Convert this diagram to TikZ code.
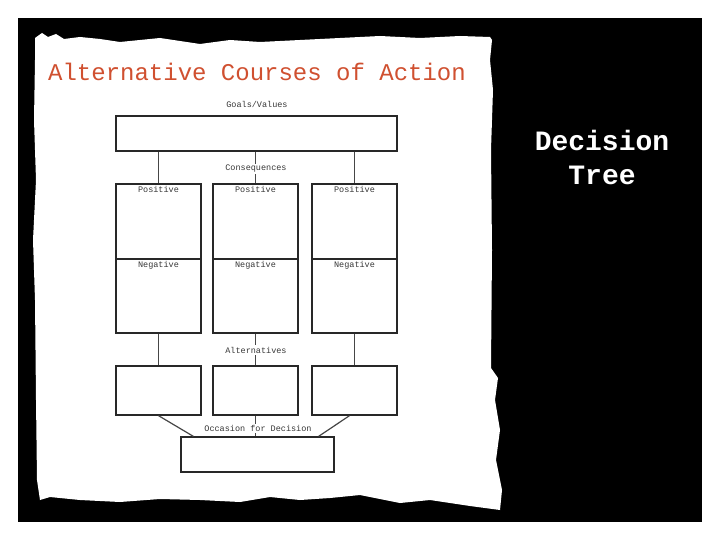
\documentclass[tikz,border=0pt]{standalone}
\usepackage{fontspec}
\setmainfont{Liberation Mono}
\usetikzlibrary{calc}
\definecolor{titlered}{RGB}{208,80,48}
\definecolor{boxline}{RGB}{40,40,40}
\definecolor{connline}{RGB}{70,70,70}
\definecolor{lbltext}{RGB}{55,55,55}
\tikzset{
  cell/.style={draw=boxline, line width=1.3pt, rectangle, inner sep=0pt, minimum width=85pt},
  conn/.style={draw=connline, line width=1.2pt},
  lbl/.style={font=\fontsize{8.5}{9}\selectfont, text=lbltext, inner sep=1.5pt},
  midlbl/.style={lbl, fill=white},
}
\begin{document}
\begin{tikzpicture}[x=1pt,y=-1pt]
\useasboundingbox (0,0) rectangle (720,540);
\fill[white] (0,0) rectangle (720,540);
\fill[black] (18,18) rectangle (702,522);
% paper
\fill[white] (35,38) -- (42,33) -- (48,37) -- (56,34) -- (64,39) -- (80,37) -- (100,39) -- (120,42)
  -- (140,40) -- (160,38) -- (180,41) -- (200,44) -- (230,40) -- (260,42) -- (300,40) -- (340,38)
  -- (380,36) -- (420,38) -- (460,36) -- (490,37) -- (492,40) -- (490,60) -- (493,90) -- (491,150)
  -- (492,250) -- (491,368) -- (498,378) -- (495,400) -- (500,430) -- (496,460) -- (502,490)
  -- (500,510) -- (470,506) -- (430,500) -- (400,503) -- (360,495) -- (330,498) -- (300,500)
  -- (270,497) -- (240,502) -- (200,500) -- (160,499) -- (120,502) -- (80,500) -- (50,497)
  -- (40,500) -- (37,480) -- (36,400) -- (35,300) -- (33,240) -- (36,180) -- (34,120) -- (35,60) -- cycle;
% titles
\node[text=titlered, font=\fontsize{24}{26}\selectfont, inner sep=0pt] (title) at (257,72) {Alternative Courses of Action};
\node[text=white, font=\fontsize{28}{34}\bfseries\selectfont, align=center, inner sep=0pt] (dt) at (602,157) {Decision\\Tree};
% boxes
\node[cell, minimum width=281pt, minimum height=35pt] (goals) at (256.5,133.5) {};
\node[lbl] (goalslbl) at (257,104) {Goals/Values};
\foreach \i/\x in {1/158.5,2/255.5,3/354.5}{
  \node[cell, minimum height=75pt] (pos\i) at (\x,221.5) {};
  \node[cell, minimum height=74pt] (neg\i) at (\x,296) {};
  \node[cell, minimum height=49pt] (alt\i) at (\x,390.5) {};
  \node[lbl, below=1pt] (poslbl\i) at (pos\i.north) {Positive};
  \node[lbl, below=1pt] (neglbl\i) at (neg\i.north) {Negative};
  \draw[conn] (goals.south -| pos\i.north) -- (pos\i.north);
  \draw[conn] (neg\i.south) -- (alt\i.north);
}
\node[cell, minimum width=153pt, minimum height=35pt] (occ) at (257.5,454.5) {};
\draw[conn] (alt1.south) -- ([xshift=13pt]occ.north west);
\draw[conn] ([xshift=-5pt]alt3.south) -- ([xshift=-16pt]occ.north east);
\draw[conn] (alt2.south) -- (alt2.south |- occ.north);
\node[midlbl] (conslbl) at (256,169) {Consequences};
\node[midlbl] (altlbl) at (256,350) {Alternatives};
\node[midlbl] (occlbl) at (258,428.5) {Occasion for Decision};
\end{tikzpicture}
\end{document}
